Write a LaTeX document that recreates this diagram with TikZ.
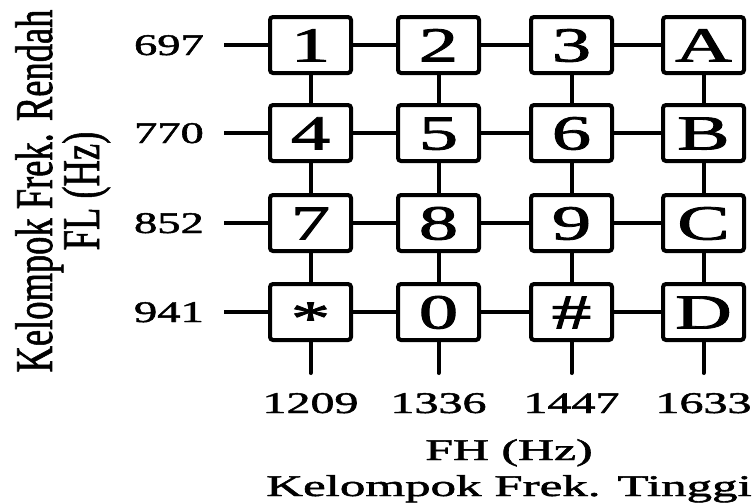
\documentclass[tikz,border=0pt]{standalone}
\usepackage{fontspec}
\setmainfont{Liberation Serif}
\newfontfamily\keyface{Liberation Serif}[FakeBold=1.6]
\newfontfamily\labelface{Liberation Serif}[FakeBold=1.4]
\usepackage{graphicx}
% horizontal / vertical widening of the lettering
\newcommand\hstretch[2][1.65]{\scalebox{#1}[1]{#2}}
\newcommand\vstretch[2][1.45]{\scalebox{1}[#1]{#2}}
\begin{document}
\begin{tikzpicture}[x=1pt,y=-1pt,
  key/.style={draw, line width=4pt, rounded corners=3pt,
    minimum width=81pt, minimum height=56pt, inner sep=0pt,
    text height=33pt, text depth=0pt,
    font=\keyface\fontsize{49}{50}\selectfont},
  wire/.style={line width=4pt},
  tick/.style={line width=4pt, line cap=round},
  lbl/.style={inner sep=0pt, font=\labelface\fontsize{30}{36}\selectfont},
  rot/.style={rotate=90, inner sep=0pt, font=\labelface\fontsize{36.5}{40}\selectfont}]
\useasboundingbox (0,0) rectangle (756,504);

% keypad: rows 697/770/852/941 Hz, columns 1209/1336/1447/1633 Hz
\node[key] (k11) at (310.5,45)  {\hstretch[1.6]{1}};
\node[key] (k12) at (438.5,45)  {\hstretch[1.6]{2}};
\node[key] (k13) at (571.5,45)  {\hstretch[1.6]{3}};
\node[key] (k14) at (703.5,45)  {\hstretch[1.6]{A}};
\node[key] (k21) at (310.5,133) {\hstretch[1.6]{4}};
\node[key] (k22) at (438.5,133) {\hstretch[1.6]{5}};
\node[key] (k23) at (571.5,133) {\hstretch[1.6]{6}};
\node[key] (k24) at (703.5,133) {\hstretch[1.6]{B}};
\node[key] (k31) at (310.5,223) {\hstretch[1.6]{7}};
\node[key] (k32) at (438.5,223) {\hstretch[1.6]{8}};
\node[key] (k33) at (571.5,223) {\hstretch[1.6]{9}};
\node[key] (k34) at (703.5,223) {\hstretch[1.6]{C}};
\node[key] (k41) at (310.5,312) {\hstretch[1.6]{\raisebox{-6pt}{*}}};
\node[key] (k42) at (438.5,312) {\hstretch[1.6]{0}};
\node[key] (k43) at (571.5,312) {\hstretch[1.6]{\#}};
\node[key] (k44) at (703.5,312) {\hstretch[1.6]{D}};

% row frequencies with their feed lines
\foreach \r/\y/\f in {1/45/697, 2/133/770, 3/223/852, 4/312/941} {
  \node[lbl, anchor=base east] (fl\r) at (204,\y+10) {\hstretch[1.55]{\f}};
  \coordinate (w\r) at (224,\y);
  \draw[wire] (w\r) -- (k\r1);
}

% column frequencies with their tails
\foreach \c/\x/\f in {1/310.5/1209, 2/438.5/1336, 3/571.5/1447, 4/703.5/1633} {
  \coordinate (t\c) at (\x,373);
  \draw[tick] (k4\c.south) -- (t\c);
  \node[lbl, anchor=base] (fh\c) at (\x,413) {\hstretch[1.6]{\f}};
}

% grid wiring
\foreach \r in {1,2,3,4} {
  \draw[wire] (k\r1) -- (k\r2);
  \draw[wire] (k\r2) -- (k\r3);
  \draw[wire] (k\r3) -- (k\r4);
}
\foreach \c in {1,2,3,4} {
  \draw[wire] (k1\c) -- (k2\c);
  \draw[wire] (k2\c) -- (k3\c);
  \draw[wire] (k3\c) -- (k4\c);
}

% axis titles
\node[lbl, anchor=base] (hunit) at (509,460) {\hstretch[1.66]{FH (Hz)}};
\node[lbl, anchor=base] (hgroup) at (509,496) {\hstretch[1.7]{Kelompok Frek. Tinggi}};
\node[rot, anchor=base] (lgroup) at (52,191) {\vstretch{Kelompok Frek. Rendah}};
\node[rot, anchor=base] (lunit) at (99,191) {\vstretch{FL (Hz)}};
\end{tikzpicture}
\end{document}
